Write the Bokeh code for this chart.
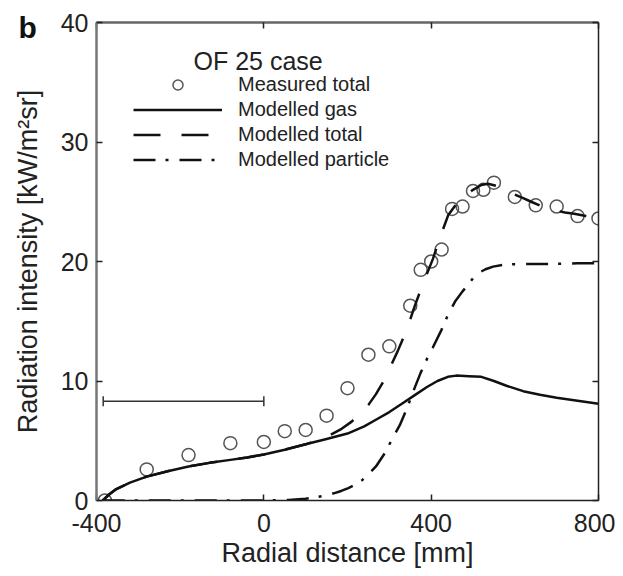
from bokeh.plotting import figure
from bokeh.models import (Range1d, LinearAxis, FixedTicker, Legend, LegendItem,
                          Label, Whisker, ColumnDataSource, TeeHead)
from bokeh.embed import file_html
from bokeh.resources import INLINE

# ---------------- data ----------------
x_ticks = [-400, 0, 400, 800]
x_tick_labels = ["-400", "0", "400", "800"]
y_ticks = [0, 10, 20, 30, 40]

meas_x = [-380, -280, -180, -80, 0, 50, 100, 150, 200, 250, 300, 350, 375, 400,
          425, 450, 475, 500, 525, 550, 600, 650, 700, 750, 800]
meas_y = [0.0, 2.6, 3.8, 4.8, 4.9, 5.8, 5.9, 7.1, 9.4, 12.2, 12.9, 16.3, 19.3, 20.0,
          21.0, 24.4, 24.6, 25.9, 26.0, 26.6, 25.4, 24.7, 24.6, 23.8, 23.6]

gas_x = [-385, -370, -355, -320, -280, -230, -180, -130, -80, -40, 0, 50, 100, 150,
         200, 240, 270, 300, 330, 360, 390, 415, 440, 460, 490, 520, 550, 580, 620,
         660, 700, 750, 800]
gas_y = [0.0, 0.5, 0.9, 1.5, 2.0, 2.45, 2.85, 3.15, 3.4, 3.6, 3.85, 4.25, 4.7, 5.15,
         5.6, 6.2, 6.8, 7.4, 8.1, 8.8, 9.5, 10.0, 10.35, 10.45, 10.4, 10.35, 10.0, 9.6,
         9.15, 8.85, 8.6, 8.35, 8.1]

tot_x = [-385, -370, -355, -320, -280, -230, -180, -130, -80, -40, 0, 50, 100, 130,
         160, 186, 210, 231, 250, 268, 285, 300, 320, 342, 360, 380, 404, 420, 441,
         460, 478, 500, 520, 536, 560, 594, 620, 639, 665, 693, 720, 742, 770, 800]
tot_y = [0.0, 0.5, 0.9, 1.5, 2.0, 2.45, 2.85, 3.15, 3.4, 3.6, 3.85, 4.25, 4.7, 5.05,
         5.5, 6.0, 6.6, 7.3, 8.0, 8.9, 9.9, 11.0, 12.5, 14.3, 16.2, 18.1, 20.2, 21.9,
         23.9, 24.8, 25.4, 26.0, 26.4, 26.5, 26.3, 25.7, 25.3, 25.0, 24.6, 24.3, 24.1,
         24.0, 23.8, 23.6]

part_x = [-385, -300, -200, -100, 0, 60, 100, 122, 145, 167, 185, 202, 220, 235, 250,
          268, 290, 309, 325, 342, 358, 375, 392, 404, 425, 439, 458, 475, 487, 500,
          511, 530, 548, 570, 594, 650, 700, 750, 800]
part_y = [0.0, 0.0, 0.0, 0.0, 0.0, 0.05, 0.15, 0.25, 0.4, 0.6, 0.8, 1.04, 1.35, 1.7,
          2.2, 2.85, 4.0, 5.3, 6.3, 7.7, 9.2, 10.7, 12.0, 12.8, 14.3, 15.45, 16.7, 17.5,
          18.0, 18.6, 19.0, 19.35, 19.57, 19.7, 19.76, 19.8, 19.8, 19.85, 19.85]

# horizontal error bar (resolution indicator)
err_y = [8.3]
err_lo = [-384]
err_hi = [0]

legend_labels = ["Measured total", "Modelled gas", "Modelled total", "Modelled particle"]
legend_title = "OF 25 case"
panel_tag = "b"
x_label = "Radial distance [mm]"
y_label = "Radiation intensity [kW/m\u00b2sr]"

FONT = "Liberation Sans"

# ---------------- figure ----------------
p = figure(width=615, height=570, x_range=Range1d(-400, 800), y_range=Range1d(0, 40),
           output_backend="svg", toolbar_location=None,
           min_border_left=96, min_border_right=17, min_border_top=22,
           min_border_bottom=69)
p.xgrid.visible = False
p.ygrid.visible = False
p.outline_line_color = None
p.background_fill_color = "white"
p.border_fill_color = "white"

# panel tag "b" as a left-aligned title pulled down next to the frame
p.title.text = panel_tag
p.title.align = "left"
p.title.offset = -78
p.title.standoff = -42
p.title.text_font = FONT
p.title.text_font_size = "30px"
p.title.text_font_style = "bold"
p.title.text_color = "#111111"

def style_axis(ax, color, width, labels=True):
    ax.axis_line_color = color
    ax.axis_line_width = width
    ax.major_tick_in = 6
    ax.major_tick_out = 0
    ax.minor_tick_in = 0
    ax.minor_tick_out = 0
    ax.major_tick_line_color = "#222222"
    ax.major_tick_line_width = 1.5
    if labels:
        ax.major_label_text_font = FONT
        ax.major_label_text_font_size = "25px"
        ax.major_label_text_color = "#222222"
    else:
        ax.major_label_text_color = None
        ax.major_label_text_font_size = "1px"
        ax.major_label_standoff = 0

xa = p.xaxis[0]
ya = p.yaxis[0]
xa.ticker = FixedTicker(ticks=x_ticks)
ya.ticker = FixedTicker(ticks=y_ticks)
xa.major_label_overrides = {t: s for t, s in zip(x_ticks, x_tick_labels)}
style_axis(xa, "#222222", 1.5)
style_axis(ya, "#777777", 2.5)
xa.major_label_standoff = 13
ya.major_label_standoff = 8
xa.axis_label = x_label
ya.axis_label = y_label
for ax in (xa, ya):
    ax.axis_label_text_font = FONT
    ax.axis_label_text_font_size = "27px"
    ax.axis_label_text_font_style = "normal"
    ax.axis_label_text_color = "#222222"
xa.axis_label_standoff = 3
ya.axis_label_standoff = 15

top = LinearAxis(ticker=FixedTicker(ticks=x_ticks))
style_axis(top, "#666666", 2.5, labels=False)
p.add_layout(top, "above")
right = LinearAxis(ticker=FixedTicker(ticks=y_ticks))
style_axis(right, "#222222", 1.5, labels=False)
p.add_layout(right, "right")

# ---------------- glyphs ----------------
r_meas = p.scatter(meas_x, meas_y, marker="circle", size=13, fill_color=None,
                   line_color="#555555", line_width=1.5)
r_gas = p.line(gas_x, gas_y, line_color="#111111", line_width=2.5)
r_tot = p.line(tot_x, tot_y, line_color="#111111", line_width=2.5, line_dash="27 21")
r_part = p.line(part_x, part_y, line_color="#111111", line_width=2.5,
                line_dash="22 10 3 11")

err_src = ColumnDataSource(data=dict(base=err_y, lower=err_lo, upper=err_hi))
wh = Whisker(source=err_src, base="base", lower="lower", upper="upper",
             dimension="width", line_color="#333333", line_width=1.5,
             upper_head=TeeHead(size=10, line_color="#333333", line_width=1.5),
             lower_head=TeeHead(size=10, line_color="#333333", line_width=1.5))
p.add_layout(wh)

# ---------------- legend ----------------
items = [LegendItem(label=legend_labels[0], renderers=[r_meas]),
         LegendItem(label=legend_labels[1], renderers=[r_gas]),
         LegendItem(label=legend_labels[2], renderers=[r_tot]),
         LegendItem(label=legend_labels[3], renderers=[r_part])]
legend = Legend(items=items, location=(37, 328), padding=0, margin=0, spacing=0,
                glyph_width=89, glyph_height=25, label_height=25, label_standoff=16,
                label_text_font=FONT, label_text_font_size="20px",
                label_text_color="#222222",
                border_line_color=None, background_fill_alpha=0)
p.add_layout(legend)

p.add_layout(Label(x=97, y=440, x_units="screen", y_units="screen", text=legend_title,
                   text_font=FONT, text_font_size="25px", text_color="#222222",
                   text_baseline="alphabetic"))

open("out.html", "w").write(file_html(p, INLINE))
